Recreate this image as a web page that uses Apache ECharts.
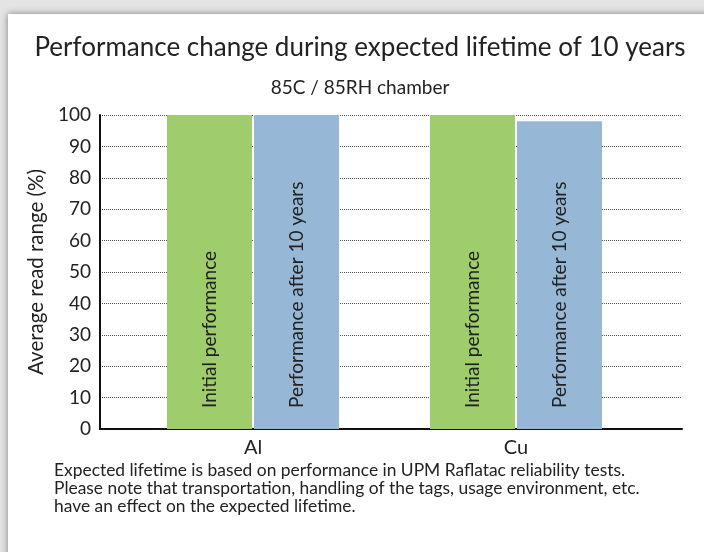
<!DOCTYPE html>
<html>
<head>
<meta charset="utf-8">
<script src="https://cdn.jsdelivr.net/npm/echarts@6/dist/echarts.min.js"></script>
<style>
  html, body { margin: 0; padding: 0; }
  body { width: 704px; height: 552px; background: #e4e4e4; position: relative; overflow: hidden; }
  .card {
    position: absolute; left: 8px; top: 14px; width: 720px; height: 560px;
    background: #fff; box-shadow: 0 0 7px rgba(0,0,0,0.45);
  }
  #chart { position: absolute; left: 0; top: 0; width: 704px; height: 552px; }
</style>
</head>
<body>
<div class="card"></div>
<div id="chart"></div>
<script>
  // data
  var categories = ['Al', 'Cu'];
  var initialPerf = [100, 100];
  var after10Years = [100, 98];
  var seriesNames = ['Initial performance', 'Performance after 10 years'];
  var yTicks = { min: 0, max: 100, interval: 10 };

  var font = 'Lato';
  var textColor = '#222';

  var myChart = echarts.init(document.getElementById('chart'), null, { renderer: 'canvas' });

  var option = {
    animation: false,
    backgroundColor: 'transparent',
    grid: [
      // frame: gridlines + axis lines
      { left: 100, right: 22, top: 115, bottom: 123 },
      // bars
      { left: 121.5, right: 56.5, top: 115, bottom: 123 }
    ],
    xAxis: [
      {
        gridIndex: 0, type: 'category', data: [''],
        axisLine: { lineStyle: { color: '#111', width: 2 } },
        axisTick: { show: false }, axisLabel: { show: false }
      },
      {
        gridIndex: 1, type: 'category', data: categories,
        axisLine: { show: false }, axisTick: { show: false },
        axisLabel: { color: textColor, fontFamily: font, fontSize: 20, margin: 9 }
      }
    ],
    yAxis: [
      {
        gridIndex: 0, type: 'value', min: yTicks.min, max: yTicks.max, interval: yTicks.interval,
        name: 'Average read range (%)', nameLocation: 'middle', nameGap: 45,
        nameTextStyle: { color: textColor, fontFamily: font, fontSize: 20.5 },
        axisLine: { show: true, lineStyle: { color: '#111', width: 2 } },
        axisTick: { show: false },
        axisLabel: { color: textColor, fontFamily: font, fontSize: 19, margin: 9 },
        splitLine: { show: true, lineStyle: { color: '#555', width: 1, type: [1, 1] } }
      },
      {
        gridIndex: 1, type: 'value', min: yTicks.min, max: yTicks.max,
        show: false, splitLine: { show: false }
      }
    ],
    series: [
      {
        name: seriesNames[0], type: 'bar', xAxisIndex: 1, yAxisIndex: 1,
        data: initialPerf, barWidth: 85, barGap: '2.4%',
        itemStyle: { color: '#9fcd6b' },
        label: {
          show: true, position: 'insideBottom', rotate: 90, align: 'left', verticalAlign: 'middle',
          distance: 21, formatter: '{a}', color: textColor, fontFamily: font, fontSize: 19
        }
      },
      {
        name: seriesNames[1], type: 'bar', xAxisIndex: 1, yAxisIndex: 1,
        data: after10Years, barWidth: 85,
        itemStyle: { color: '#96b8d6' },
        label: {
          show: true, position: 'insideBottom', rotate: 90, align: 'left', verticalAlign: 'middle',
          distance: 21, formatter: '{a}', color: textColor, fontFamily: font, fontSize: 19
        }
      }
    ],
    graphic: [
      {
        type: 'text', x: 360, y: 48,
        style: {
          text: 'Performance change during expected lifetime of 10 years',
          textAlign: 'center', textVerticalAlign: 'middle',
          font: '26px ' + font, fill: textColor
        }
      },
      {
        type: 'text', x: 360, y: 88,
        style: {
          text: '85C / 85RH chamber', textAlign: 'center', textVerticalAlign: 'middle',
          font: '19px ' + font, fill: textColor
        }
      },
      {
        type: 'text', x: 54, y: 461,
        style: {
          text: 'Expected lifetime is based on performance in UPM Raflatac reliability tests.\n' +
                'Please note that transportation, handling of the tags, usage environment, etc.\n' +
                'have an effect on the expected lifetime.',
          textAlign: 'left', textVerticalAlign: 'top', lineHeight: 18,
          font: '17.4px ' + font, fill: textColor
        }
      }
    ]
  };

  myChart.setOption(option);
</script>
</body>
</html>
